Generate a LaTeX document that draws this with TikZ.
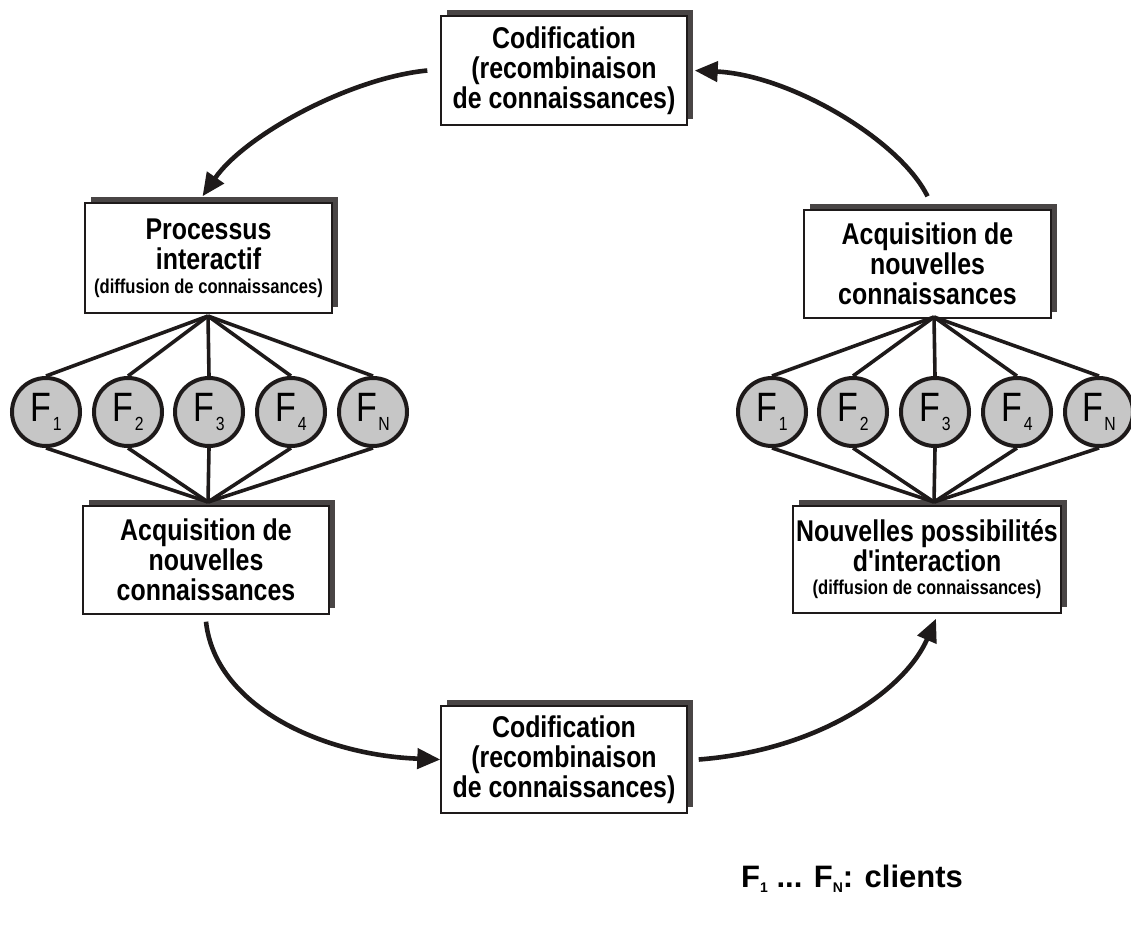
\documentclass[tikz,border=0pt]{standalone}
\usepackage{fontspec}
\newfontfamily\lab{Liberation Sans}[FakeStretch=0.83]
\newfontfamily\legfont{Liberation Sans}
\usetikzlibrary{arrows.meta,shadows}
\definecolor{shad}{HTML}{494545}
\definecolor{cfill}{HTML}{C6C6C6}
\definecolor{ink}{HTML}{1E1A1A}
\newcommand\Fsub[1]{\fontsize{41}{41}\selectfont F\kern1.5pt\raisebox{-9pt}{\fontsize{19}{19}\selectfont #1}}
\newcommand\smalltxt[1]{{\fontsize{20}{22}\selectfont #1}}
\newcommand\legsub[1]{\raisebox{-5pt}{\fontsize{14}{14}\selectfont #1}}
\begin{document}
\begin{tikzpicture}[x=1pt,y=-1pt,
  box/.style={draw=ink, line width=1.4pt, fill=white, align=center, inner sep=0pt,
    font=\lab\bfseries\fontsize{30}{30}\selectfont,
    drop shadow={shadow xshift=6pt, shadow yshift=6pt, fill=shad, opacity=1, shadow scale=1}},
  firm/.style={circle, draw=ink, line width=4pt, fill=cfill, minimum size=68pt, inner sep=0pt,
    font=\lab},
  link/.style={draw=ink, line width=3.6pt},
  arr/.style={draw=ink, line width=4.6pt, -{Triangle[length=23pt,width=20pt]}},
  legend/.style={font=\legfont\bfseries\fontsize{31}{31}\selectfont, inner sep=0pt}
]
\useasboundingbox (0,0) rectangle (1131,930);

% boxes
\node[box, minimum width=246pt, minimum height=109pt] (codT) at (564,70.5)
  {Codification\\(recombinaison\\de connaissances)};
\node[box, minimum width=247pt, minimum height=110pt] (proc) at (208.5,258)
  {Processus\\interactif\\[-6pt]\smalltxt{(diffusion de connaissances)}};
\node[box, minimum width=246pt, minimum height=108pt] (acqL) at (206,560)
  {Acquisition de\\nouvelles\\connaissances};
\node[box, minimum width=247pt, minimum height=108pt] (acqR) at (927.5,264)
  {Acquisition de\\nouvelles\\connaissances};
\node[box, minimum width=268pt, minimum height=107pt] (nouv) at (927,559.5)
  {Nouvelles possibilités\\d'interaction\\[-7pt]\smalltxt{(diffusion de connaissances)}};
\node[box, minimum width=246pt, minimum height=107pt] (codB) at (564,759.5)
  {Codification\\(recombinaison\\de connaissances)};

% apexes
\coordinate (LT) at (208,316);
\coordinate (LB) at (208,502);
\coordinate (RT) at (934,317);
\coordinate (RB) at (934,502);

% left firms
\foreach \x/\n/\s in {46/1/1,128/2/2,209/3/3,291/4/4,373/5/N}{
  \node[firm] (L\n) at (\x,412) {\Fsub{\s}};
  \draw[link] (LT) -- (L\n.north);
  \draw[link] (L\n.south) -- (LB);
}
% right firms
\foreach \x/\n/\s in {772/1/1,853/2/2,935/3/3,1017/4/4,1099/5/N}{
  \node[firm] (R\n) at (\x,412) {\Fsub{\s}};
  \draw[link] (RT) -- (R\n.north);
  \draw[link] (R\n.south) -- (RB);
}

% cycle arrows
\draw[arr] ([xshift=-13pt]codT.west) .. controls (350,78) and (245,135) .. ([xshift=-6pt,yshift=6pt]proc.north);
\draw[arr] ([yshift=13pt]acqR.north) .. controls (900,140) and (790,75) .. ([xshift=7pt]codT.east);
\draw[arr] ([yshift=-7pt]acqL.south) .. controls (215,705) and (320,755) .. (codB.west);
\draw[arr] ([xshift=11pt]codB.east) .. controls (820,750) and (905,690) .. ([xshift=9pt,yshift=-5pt]nouv.south);

% legend
\node[legend, anchor=base west] (leg) at (741,887)
  {F\legsub{1} ... F\legsub{N}: clients};
\end{tikzpicture}
\end{document}
